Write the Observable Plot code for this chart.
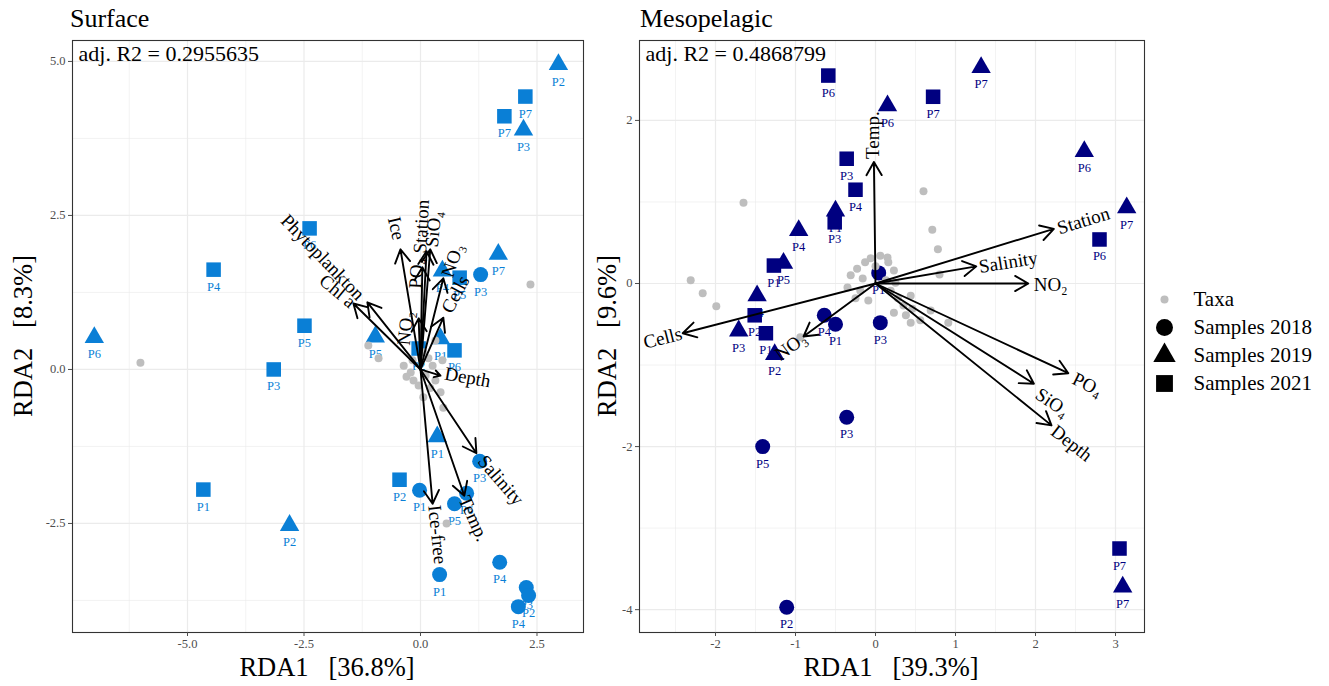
<!DOCTYPE html>
<html><head><meta charset="utf-8">
<script src="https://cdn.jsdelivr.net/npm/d3@7"></script>
<script src="https://cdn.jsdelivr.net/npm/@observablehq/plot@0.6"></script>
<style>
body{margin:0;background:#fff;font-family:"Liberation Serif","Times New Roman",serif;}
#wrap{position:relative;width:1329px;height:686px;overflow:hidden;background:#fff;}
.abs{position:absolute;line-height:1;white-space:pre;color:#000;font-family:"Liberation Serif",serif;}
.title{font-size:26px;}
.axt{font-size:26.5px;}
svg text{font-family:"Liberation Serif",serif !important;}
</style></head><body><div id="wrap"></div>
<script>
// ---------- Shared ----------
const years = ["2018", "2019", "2021"];
const yearSymbols = ["circle", "triangle", "square"];
const legendLabels = ["Taxa", "Samples 2018", "Samples 2019", "Samples 2021"];
const legendSymbols = ["circle", "circle", "triangle", "square"];

// ---------- Surface ----------
const surfTitle = "Surface";
const surfR2 = "adj. R2 = 0.2955635";
const surfXLabel = "RDA1   [36.8%]";
const surfYLabel = "RDA2   [8.3%]";
const surfX = [2.96, 2.25, 1.80, 2.21, -2.38, -4.44, -7.00, -2.49, -3.15, -0.97, 1.67, 0.47, 0.84, 1.29, 0.43, 0.73, -0.04, 0.36, 1.27, -0.45, -0.02, 0.99, 0.73, -4.66, -2.81, 0.41, 1.70, 2.27, 2.32, 2.10];
const surfY = [4.95, 4.43, 4.11, 3.89, 2.29, 1.62, 0.52, 0.71, 0.00, 0.53, 1.87, 1.60, 1.49, 1.54, 0.50, 0.31, 0.34, -1.09, -1.49, -1.79, -1.96, -2.01, -2.18, -1.95, -2.53, -3.33, -3.13, -3.54, -3.67, -3.85];
const surfYear = ["2019","2021","2021","2019","2021","2021","2019","2021","2021","2019","2019","2019","2021","2018","2019","2021","2021","2019","2018","2021","2018","2018","2018","2021","2019","2018","2018","2018","2018","2018"];
const surfStation = ["P2","P7","P7","P3","P6","P4","P6","P5","P3","P5","P7","P4","P5","P3","P1","P6","P2","P1","P3","P2","P1","P6","P5","P1","P2","P1","P4","P3","P2","P4"];
const surfTaxaX = [-6.01, 2.36, -1.12, -0.90, -0.36, -0.15, -0.17, 0.26, 0.49, 0.56, 0.32, 0.11, -0.21, 0.17, -0.04, 0.43, 0.06, 0.32, 0.47, 0.06, -0.30, 0.21];
const surfTaxaY = [0.11, 1.38, 0.39, 0.18, 0.06, -0.18, 0.15, 0.06, -0.62, -2.50, -0.18, -0.10, -0.05, 0.18, -0.26, -0.37, 0.28, 0.47, 0.15, -0.45, -0.12, -0.30];
const surfVarName = ["Phytoplankton", "Chl a", "Ice", "Station", "SiO₄", "PO₄", "NO₃", "Cells", "NO₂", "Depth", "Salinity", "Temp.", "Ice-free"];
const surfVarX = [-1.14, -1.44, -0.43, 0.13, 0.21, 0.04, 0.49, 0.49, -0.04, 0.43, 1.20, 0.94, 0.26];
const surfVarY = [1.09, 1.07, 1.95, 1.92, 1.95, 1.66, 1.48, 0.84, 0.83, -0.10, -1.36, -2.05, -2.18];
const surfLabX = [-2.10, -1.78, -0.52, 0.02, 0.28, -0.09, 0.69, 0.75, -0.32, 1.01, 1.72, 1.14, 0.36];
const surfLabY = [1.82, 1.27, 2.29, 2.32, 2.28, 1.56, 1.77, 1.22, 0.67, -0.13, -1.80, -2.42, -2.68];
const surfLabAngle = [46, 40, 77, -87, -84, -87, -71, -62, -84, 10, 49, 66, 84];
const surfXTicks = [-5, -2.5, 0, 2.5];
const surfXMinor = [-6.25, -3.75, -1.25, 1.25];
const surfYTicks = [-2.5, 0, 2.5, 5];
const surfYMinor = [-3.75, -1.25, 1.25, 3.75];

// ---------- Mesopelagic ----------
const mesoTitle = "Mesopelagic";
const mesoR2 = "adj. R2 = 0.4868799";
const mesoXLabel = "RDA1   [39.3%]";
const mesoYLabel = "RDA2   [9.6%]";
const mesoX = [-0.59, 0.15, 0.72, 1.32, 2.61, 3.14, 2.80, -0.36, -0.25, -0.50, -0.51, -0.96, -1.15, -1.27, -1.48, -1.51, -1.71, -1.37, -1.26, -0.64, -0.50, 0.06, -0.36, -1.41, -1.11, 3.05, 3.09, 0.04];
const mesoY = [2.55, 2.18, 2.29, 2.65, 1.62, 0.93, 0.54, 1.53, 1.15, 0.89, 0.75, 0.65, 0.25, 0.22, -0.15, -0.39, -0.58, -0.61, -0.87, -0.39, -0.50, -0.48, -1.64, -2.00, -3.97, -3.25, -3.72, 0.13];
const mesoYear = ["2021","2019","2021","2019","2019","2019","2021","2021","2021","2019","2021","2019","2019","2021","2019","2021","2019","2021","2019","2018","2018","2018","2018","2018","2018","2021","2019","2018"];
const mesoStation = ["P6","P6","P7","P7","P6","P7","P6","P3","P4","P1","P3","P4","P5","P1","P4","P2","P3","P1","P2","P4","P1","P3","P3","P5","P2","P7","P7","P1"];
const mesoTaxaX = [-1.65, -2.31, -2.16, -1.99, 0.60, 0.71, 0.78, 0.80, 0.91, -0.94, 0.44, 0.44, 0.15, -0.31, -0.23, -0.13, -0.06, 0.06, 0.16, 0.23, 0.13, 0.19, 0.28, 0.35, 0.23, -0.19, -0.25, -0.09, -0.35, 0.38, 0.46, 0.56, 0.00, 0.25, -0.16, 0.69];
const mesoTaxaY = [0.99, 0.04, -0.12, -0.28, 1.13, 0.66, 0.42, 0.11, -0.48, -0.66, -0.48, -0.15, 0.32, 0.10, 0.18, 0.26, 0.31, 0.34, 0.26, 0.16, 0.04, -0.09, -0.18, -0.27, -0.36, -0.09, -0.18, -0.21, -0.05, -0.39, -0.31, -0.45, 0.21, 0.01, 0.06, -0.33];
const mesoVarName = ["Temp.", "Station", "Salinity", "NO₂", "PO₄", "SiO₄", "Depth", "Cells", "NO₃"];
const mesoVarX = [-0.02, 2.23, 1.26, 1.91, 2.41, 1.98, 2.20, -2.41, -0.90];
const mesoVarY = [1.49, 0.67, 0.21, 0.00, -1.10, -1.23, -1.74, -0.61, -0.65];
const mesoLabX = [-0.03, 2.60, 1.66, 2.19, 2.65, 2.21, 2.45, -2.66, -1.06];
const mesoLabY = [1.82, 0.77, 0.26, -0.02, -1.24, -1.46, -1.96, -0.67, -0.77];
const mesoLabAngle = [-90, -17, -9, 0, 26, 34, 38, -14, -36];
const mesoXTicks = [-2, -1, 0, 1, 2, 3];
const mesoXMinor = [-2.5, -1.5, -0.5, 0.5, 1.5, 2.5];
const mesoYTicks = [-4, -2, 0, 2];
const mesoYMinor = [-3, -1, 1];

const FONT = "'Liberation Serif', serif";

function panel(o) {
  const samples = o.x.map((x, i) => ({x, y: o.y[i], year: o.year[i], st: o.st[i]}));
  const taxa = o.tx.map((x, i) => ({x, y: o.ty[i]}));
  const vecs = o.vn.map((n, i) => ({n, x: o.vx[i], y: o.vy[i], lx: o.lx[i], ly: o.ly[i], rot: o.rot[i]}));
  const symSize = {"2018": 7.5, "2019": 7.2, "2021": 8.2};
  const gridMinor = {stroke: "#EBEBEB", strokeOpacity: 1, strokeWidth: 0.6};
  const gridMajor = {stroke: "#EBEBEB", strokeOpacity: 1, strokeWidth: 1.2};
  const sampleLayers = years.flatMap(yr => {
    const sub = samples.filter(d => d.year === yr);
    return [
      Plot.dot(sub, {x: "x", y: "y", symbol: "year", fill: o.color, stroke: "none", r: symSize[yr]}),
      Plot.text(sub, {x: "x", y: "y", text: "st", dy: 17, fill: o.color, fontSize: 12.5, fontFamily: FONT})
    ];
  });
  return Plot.plot({
    width: o.width, height: 686,
    marginLeft: o.ml, marginRight: o.mr, marginTop: 40, marginBottom: 54,
    x: {domain: o.xd},
    y: {domain: o.yd},
    symbol: {domain: years, range: yearSymbols},
    style: {fontFamily: FONT, background: "white", overflow: "visible"},
    marks: [
      Plot.gridX({ticks: o.xminor, ...gridMinor}),
      Plot.gridY({ticks: o.yminor, ...gridMinor}),
      Plot.gridX({ticks: o.xticks, ...gridMajor}),
      Plot.gridY({ticks: o.yticks, ...gridMajor}),
      ...sampleLayers,
      Plot.dot(taxa, {x: "x", y: "y", fill: "#BEBEBE", r: 4}),
      Plot.arrow(vecs, {x1: () => 0, y1: () => 0, x2: "x", y2: "y", stroke: "black", strokeWidth: 1.9, headLength: 12}),
      Plot.text(vecs, {x: "lx", y: "ly", text: "n", rotate: "rot", fontSize: 19, fill: "black", fontFamily: FONT}),
      Plot.text([o.r2], {frameAnchor: "top-left", dx: 6, dy: 5, lineAnchor: "top", textAnchor: "start", fontSize: 22, fill: "black", fontFamily: FONT}),
      Plot.frame({stroke: "#333333", strokeWidth: 1.1}),
      Plot.axisX({ticks: o.xticks, tickFormat: o.fmt, tickSize: 4, tickPadding: 3, fontSize: 12.5, color: "#4D4D4D", label: null, fontFamily: FONT}),
      Plot.axisY({ticks: o.yticks, tickFormat: o.fmt, tickSize: 4, tickPadding: 3, fontSize: 12.5, color: "#4D4D4D", label: null, fontFamily: FONT})
    ]
  });
}

const wrap = document.getElementById("wrap");
function place(el, left, top) {
  el.style.position = "absolute";
  el.style.left = left + "px";
  el.style.top = top + "px";
  wrap.appendChild(el);
}
function txt(s, cls, css) {
  const d = document.createElement("div");
  d.className = "abs " + cls;
  d.textContent = s;
  Object.assign(d.style, css);
  wrap.appendChild(d);
  return d;
}

const surf = panel({
  width: 600, ml: 72, mr: 17, xd: [-7.468, 3.498], yd: [-4.27, 5.34],
  x: surfX, y: surfY, year: surfYear, st: surfStation, tx: surfTaxaX, ty: surfTaxaY,
  vn: surfVarName, vx: surfVarX, vy: surfVarY, lx: surfLabX, ly: surfLabY, rot: surfLabAngle,
  xticks: surfXTicks, xminor: surfXMinor, yticks: surfYTicks, yminor: surfYMinor,
  fmt: d => d.toFixed(1), color: "#0A7FD6", r2: surfR2
});
place(surf, 0, 0);

const meso = panel({
  width: 560, ml: 39, mr: 16, xd: [-2.95, 3.3625], yd: [-4.28, 2.98],
  x: mesoX, y: mesoY, year: mesoYear, st: mesoStation, tx: mesoTaxaX, ty: mesoTaxaY,
  vn: mesoVarName, vx: mesoVarX, vy: mesoVarY, lx: mesoLabX, ly: mesoLabY, rot: mesoLabAngle,
  xticks: mesoXTicks, xminor: mesoXMinor, yticks: mesoYTicks, yminor: mesoYMinor,
  fmt: d => String(d), color: "#000080", r2: mesoR2
});
place(meso, 600, 0);

// Legend
const legData = legendLabels.map((l, i) => ({l, s: legendSymbols[i], taxa: i === 0}));
const legend = Plot.plot({
  width: 179, height: 170, margin: 0,
  y: {type: "point", domain: legendLabels, range: [23, 138], axis: null},
  symbol: {type: "identity"},
  style: {fontFamily: FONT, background: "transparent"},
  marks: [
    Plot.dot(legData.filter(d => d.taxa), {y: "l", symbol: "s", frameAnchor: "left", dx: 14, r: 4, fill: "#BEBEBE"}),
    Plot.dot(legData.filter(d => d.s === "circle" && !d.taxa), {y: "l", symbol: "s", frameAnchor: "left", dx: 14, r: 8.5, fill: "black"}),
    Plot.dot(legData.filter(d => d.s === "triangle"), {y: "l", symbol: "s", frameAnchor: "left", dx: 14, r: 8.3, fill: "black"}),
    Plot.dot(legData.filter(d => d.s === "square"), {y: "l", symbol: "s", frameAnchor: "left", dx: 14, r: 9.5, fill: "black"}),
    Plot.text(legData, {y: "l", text: "l", frameAnchor: "left", dx: 43, textAnchor: "start", fontSize: 21, fill: "black", fontFamily: FONT})
  ]
});
place(legend, 1150, 260);

// Titles and axis titles
txt(surfTitle, "title", {left: "70px", top: "6px"});
txt(mesoTitle, "title", {left: "640px", top: "6px"});
txt(surfXLabel, "axt", {left: "177px", top: "654px", width: "300px", textAlign: "center"});
txt(mesoXLabel, "axt", {left: "741px", top: "654px", width: "300px", textAlign: "center"});
txt(surfYLabel, "axt", {left: "23px", top: "336px", transform: "translate(-50%,-50%) rotate(-90deg)"});
txt(mesoYLabel, "axt", {left: "607px", top: "336px", transform: "translate(-50%,-50%) rotate(-90deg)"});
</script>
</body></html>
